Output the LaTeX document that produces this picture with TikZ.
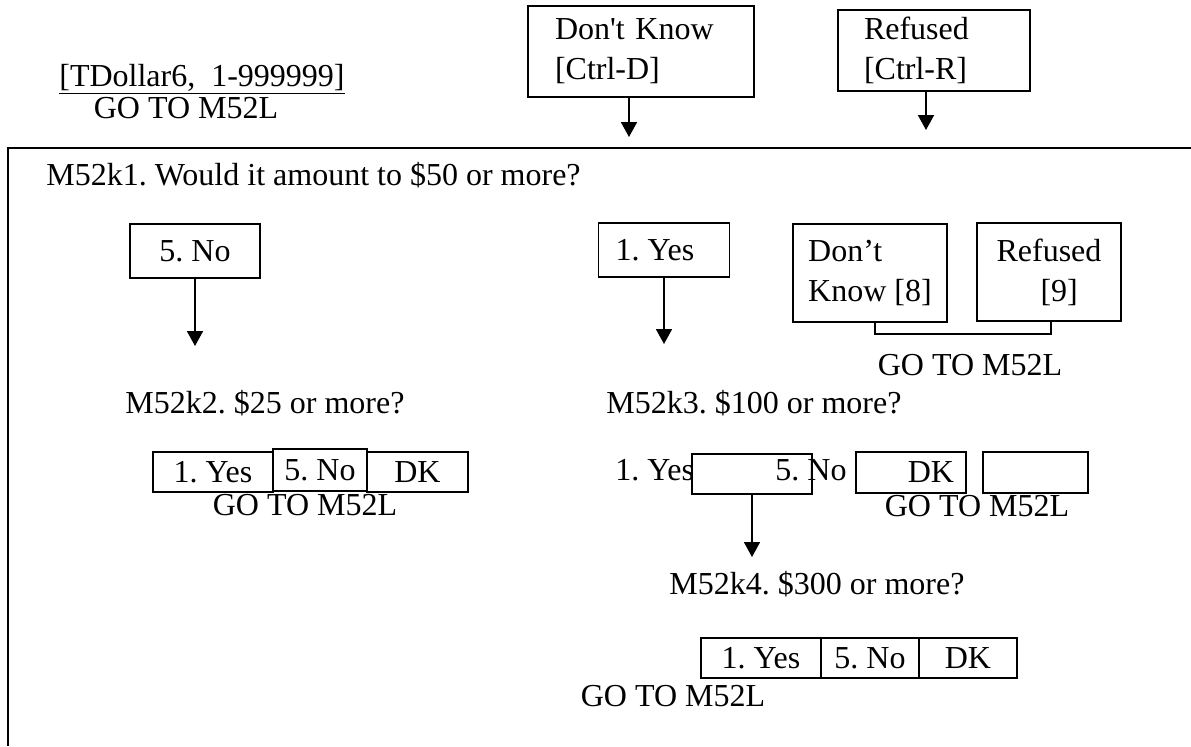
\documentclass[tikz,border=0pt]{standalone}
\usepackage{fontspec}
\setmainfont{Liberation Serif}
\usetikzlibrary{arrows.meta}

\tikzset{
  qtext/.style={font=\fontsize{16}{20}\selectfont, inner sep=0pt},
  optbox/.style={draw, line width=0.9pt, font=\fontsize{16}{20}\selectfont, inner sep=0pt},
  flow/.style={line width=0.9pt, -{Triangle[length=7.5pt,width=8pt]}},
}

\begin{document}
\frenchspacing
\begin{tikzpicture}[x=0.5pt, y=-0.5pt]
  \useasboundingbox (0,0) rectangle (1191,746);

  % Header: range answer and special keys
  \node[qtext, anchor=base] (range) at (202,86) {\underline{[TDollar6,\ \ 1-999999]}};
  \node[qtext, anchor=base] (rangego) at (186,118) {GO TO M52L};
  \node[optbox, minimum height=45.5pt, text width=86pt, inner xsep=13.5pt, align=left] (dkkey) at (641,51.5) {Don\textquotesingle t Know\\{}[Ctrl-D]};
  \node[optbox, minimum height=40.5pt, text width=70pt, inner xsep=13pt, align=left] (refkey) at (934,50.5) {Refused\\{}[Ctrl-R]};
  \coordinate (dkend) at (629,137);
  \coordinate (refend) at (926,130);
  \draw[flow] (dkkey.south -| dkend) -- (dkend);
  \draw[flow] (refkey.south -| refend) -- (refend);

  % Question frame
  \draw[line width=0.9pt] (1191,148) -- (8,148) -- (8,746);

  % M52k1
  \node[qtext, anchor=base west] (q1) at (46,185) {M52k1. Would it amount to \$50 or more?};
  \node[optbox, minimum width=65pt, minimum height=27pt] (no1) at (195,251) {5. No};
  \node[optbox, minimum width=65.5pt, minimum height=27pt] (yes1) at (664,250) {1. Yes\hspace*{9pt}};
  \node[optbox, minimum width=77pt, minimum height=49pt, align=left] (dk1) at (870,273) {Don’t\\Know [8]};
  \node[optbox, minimum width=72pt, minimum height=49pt, align=left] (rf1) at (1049,272) {Refused\\\hspace*{22pt}[9]};
  \coordinate (no1end) at (195,346);
  \coordinate (yes1end) at (664,344);
  \draw[flow] (no1) -- (no1end);
  \draw[flow] (yes1) -- (yes1end);
  \coordinate (brl) at (875,334);
  \coordinate (brr) at (1051,334);
  \draw[line width=0.9pt] (dk1.south -| brl) -- (brl) -- (brr) -- (rf1.south -| brr);
  \node[qtext, anchor=base] (go1) at (970,375) {GO TO M52L};

  % M52k2
  \node[qtext, anchor=base west] (q2) at (125,413) {M52k2. \$25 or more?};
  \node[optbox, minimum width=60pt, minimum height=20pt] (q2yes) at (213,472) {1. Yes};
  \node[optbox, minimum width=47pt, minimum height=21pt] (q2no) at (320,470) {5. No};
  \node[optbox, minimum width=50.5pt, minimum height=20pt] (q2dk) at (417.5,472) {DK};
  \node[qtext, anchor=base] (go2) at (305,515) {GO TO M52L};

  % M52k3
  \node[qtext, anchor=base west] (q3) at (606,413) {M52k3. \$100 or more?};
  \node[qtext, anchor=base west] (q3yes) at (615,480) {1. Yes};
  \node[optbox, minimum width=60pt, minimum height=20pt] (q3box) at (752,474) {};
  \node[qtext, anchor=base west] (q3no) at (775,480) {5. No};
  \node[optbox, minimum width=55pt, minimum height=20.5pt] (q3dk) at (911,472.5) {\hspace*{20pt}DK};
  \node[optbox, minimum width=52.5pt, minimum height=20.5pt] (q3blank) at (1035.5,472.5) {};
  \node[qtext, anchor=base] (go3) at (977,516) {GO TO M52L};
  \coordinate (q3end) at (752,557);
  \draw[flow] (q3box.south) -- (q3end);

  % M52k4
  \node[qtext, anchor=base west] (q4) at (669,594) {M52k4. \$300 or more?};
  \node[optbox, minimum width=60pt, minimum height=20pt] (q4yes) at (761,658) {1. Yes};
  \node[optbox, minimum width=49pt, minimum height=20pt] (q4no) at (870,658) {5. No};
  \node[optbox, minimum width=49pt, minimum height=20pt] (q4dk) at (968,658) {DK};
  \node[qtext, anchor=base] (go4) at (673,706) {GO TO M52L};
\end{tikzpicture}
\end{document}
